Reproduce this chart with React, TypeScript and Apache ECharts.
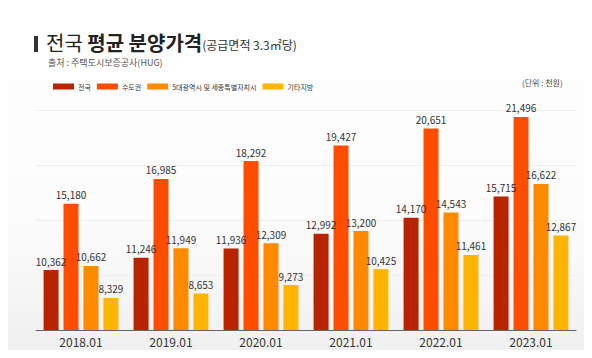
import React, { useEffect, useRef } from "react";
import * as echarts from "echarts";

const categories = ["2018.01", "2019.01", "2020.01", "2021.01", "2022.01", "2023.01"];
const seriesNames = ["전국", "수도권", "5대광역시 및 세종특별자치시", "기타지방"];
const national = [10362, 11246, 11936, 12992, 14170, 15715];
const capital = [15180, 16985, 18292, 19427, 20651, 21496];
const metro = [10662, 11949, 12309, 13200, 14543, 16622];
const others = [8329, 8653, 9273, 10425, 11461, 12867];
const colors = ["#b82300", "#ff4d00", "#ff8a00", "#ffb400"];

const FONT = "'Noto Sans CJK KR', 'Noto Sans', sans-serif";

export default function App() {
  const ref = useRef<HTMLDivElement>(null);
  useEffect(() => {
    const chart = echarts.init(ref.current!, null, { renderer: "svg" });
    const data = [national, capital, metro, others];
    chart.setOption({
      animation: false,
      backgroundColor: {
        type: "linear",
        x: 0, y: 0, x2: 0, y2: 1,
        colorStops: [
          { offset: 0, color: "#ffffff" },
          { offset: 0.6, color: "#fcfcfc" },
          { offset: 1, color: "#efefef" },
        ],
      },
      textStyle: { fontFamily: FONT },
      graphic: [
        { type: "rect", left: 34, top: 36, shape: { width: 4, height: 16 }, style: { fill: "#333" } },
        {
          type: "text",
          left: 46,
          top: 32,
          style: {
            text: "{a|전국 }{b|평균 분양가격}{c|(공급면적 3.3㎡당)}",
            rich: {
              a: { fontSize: 20, fontFamily: FONT, fill: "#222", fontWeight: "normal" },
              b: { fontSize: 20, fontFamily: FONT, fill: "#222", fontWeight: "bold" },
              c: { fontSize: 12, fontFamily: FONT, fill: "#333", padding: [5, 0, 0, 0] },
            },
          },
        },
        {
          type: "text",
          left: 48,
          top: 58,
          style: { text: "출처 : 주택도시보증공사(HUG)", fontSize: 9, fontFamily: FONT, fill: "#555" },
        },
        {
          type: "text",
          left: 522,
          top: 78,
          style: { text: "(단위 : 천원)", fontSize: 8, fontFamily: FONT, fill: "#444" },
        },
      ],
      legend: {
        left: 48,
        top: 78,
        itemWidth: 21,
        itemHeight: 6,
        itemGap: 6,
        icon: "rect",
        textStyle: { fontSize: 7, color: "#333", fontFamily: FONT, padding: [0, 0, 0, -1] },
        data: seriesNames,
      },
      grid: { left: 36, right: 16, top: 110, bottom: 28 },
      xAxis: {
        type: "category",
        data: categories,
        axisTick: { show: false },
        axisLine: { lineStyle: { color: "#666", width: 1 } },
        axisLabel: { fontSize: 12, color: "#333", margin: 5, fontFamily: FONT },
      },
      yAxis: {
        type: "value",
        min: 6000,
        max: 22000,
        interval: 4000,
        axisLabel: { show: false },
        axisLine: { show: false },
        axisTick: { show: false },
        splitLine: { lineStyle: { color: "#f0f0f0", width: 1 } },
      },
      series: data.map((d, i) => ({
        name: seriesNames[i],
        type: "bar",
        data: d,
        barWidth: 15,
        barGap: "33%",
        itemStyle: { color: colors[i] },
        label: {
          show: true,
          position: "top",
          distance: 4,
          fontSize: 10,
          color: "#333",
          fontFamily: FONT,
          formatter: (p: any) => p.value.toLocaleString("en-US"),
        },
      })),
    });
    return () => chart.dispose();
  }, []);
  return <div ref={ref} style={{ width: 592, height: 358, margin: -8 }} />;
}
